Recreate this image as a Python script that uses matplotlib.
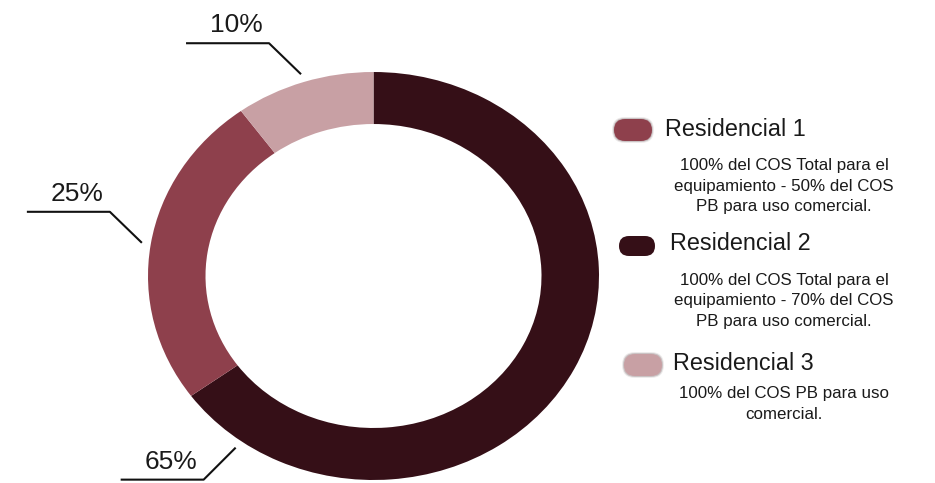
import matplotlib
matplotlib.use("Agg")
import matplotlib.pyplot as plt
from matplotlib.patches import FancyBboxPatch
import numpy as np

# --- data -------------------------------------------------------------
categories = ["Residencial 1", "Residencial 2", "Residencial 3"]
shares = [25, 65, 10]
descriptions = [
    "100% del COS Total para el\nequipamiento - 50% del COS\nPB para uso comercial.",
    "100% del COS Total para el\nequipamiento - 70% del COS\nPB para uso comercial.",
    "100% del COS PB para uso\ncomercial.",
]
colors = ["#8e404c", "#350f17", "#c8a0a4"]
pie_order = [1, 0, 2]          # clockwise from 12 o'clock

W, H = 935, 483
plt.rcParams["font.family"] = ["Liberation Sans", "DejaVu Sans"]
fig = plt.figure(figsize=(W / 100, H / 100), dpi=100)

# donut (slightly wider than tall)
ax = fig.add_axes([148 / W, 1 - 480 / H, 451 / W, 408 / H])
wedges, _ = ax.pie([shares[i] for i in pie_order],
                   colors=[colors[i] for i in pie_order],
                   startangle=90, counterclock=False, radius=1,
                   wedgeprops=dict(width=0.255, linewidth=0))
ax.set_aspect("auto")
ax.set_xlim(-1, 1)
ax.set_ylim(-1, 1)
ax.axis("off")

# overlay in pixel units for labels and legend
lay = fig.add_axes([0, 0, 1, 1])
lay.set_xlim(0, W)
lay.set_ylim(H, 0)
lay.axis("off")
lay.patch.set_alpha(0)

def to_px(x, y):
    disp = ax.transData.transform((x, y))
    return lay.transData.inverted().transform(disp)

# leader lines with percentage labels
anchor_override = {0: -126.0}
for k, (w, idx) in enumerate(zip(wedges, pie_order)):
    ang = anchor_override.get(k, 0.5 * (w.theta1 + w.theta2))
    r = 1.04
    px, py = to_px(r * np.cos(np.radians(ang)), r * np.sin(np.radians(ang)))
    dy = -31 if np.sin(np.radians(ang)) > 0 else 32
    ex, ey = px - 32, py + dy
    lay.plot([px, ex, ex - 83], [py, ey, ey], color="#111111", lw=1.5,
             solid_capstyle="butt")
    lay.text(ex - 33, ey - 18, f"{shares[idx]}%", fontsize=19,
             ha="center", va="center", color="#1a1a1a")

# legend with descriptions
pill_centers = [(633, 130), (637, 246), (643, 365)]
pill_sizes = [(38, 22), (36, 20), (38, 22)]
pill_soft = [True, False, True]
title_pos = [(665, 129), (670, 244), (673, 364)]
desc_pos = [(784, 186), (784, 301), (784, 404)]
for i, cat in enumerate(categories):
    cx, cy = pill_centers[i]
    w, h = pill_sizes[i]
    if pill_soft[i]:
        for grow, a in [(4, 0.15), (2, 0.35)]:
            lay.add_patch(FancyBboxPatch(
                (cx - (w + grow) / 2, cy - (h + grow) / 2), w + grow, h + grow,
                boxstyle=f"round,pad=0,rounding_size={(h + grow) / 2}",
                facecolor="#8a7a7d", edgecolor="none", alpha=a))
    lay.add_patch(FancyBboxPatch((cx - w / 2, cy - h / 2), w, h,
                                 boxstyle=f"round,pad=0,rounding_size={h / 2}",
                                 facecolor=colors[i], edgecolor="none"))
    tx, ty = title_pos[i]
    lay.text(tx, ty, cat, fontsize=16.8, ha="left", va="center",
             color="#1a1a1a")
    dx, dy = desc_pos[i]
    lay.text(dx, dy, descriptions[i], fontsize=12.2, ha="center",
             va="center", color="#1a1a1a", linespacing=1.45,
             multialignment="center")

fig.savefig("out.png", dpi=100, facecolor="white")
